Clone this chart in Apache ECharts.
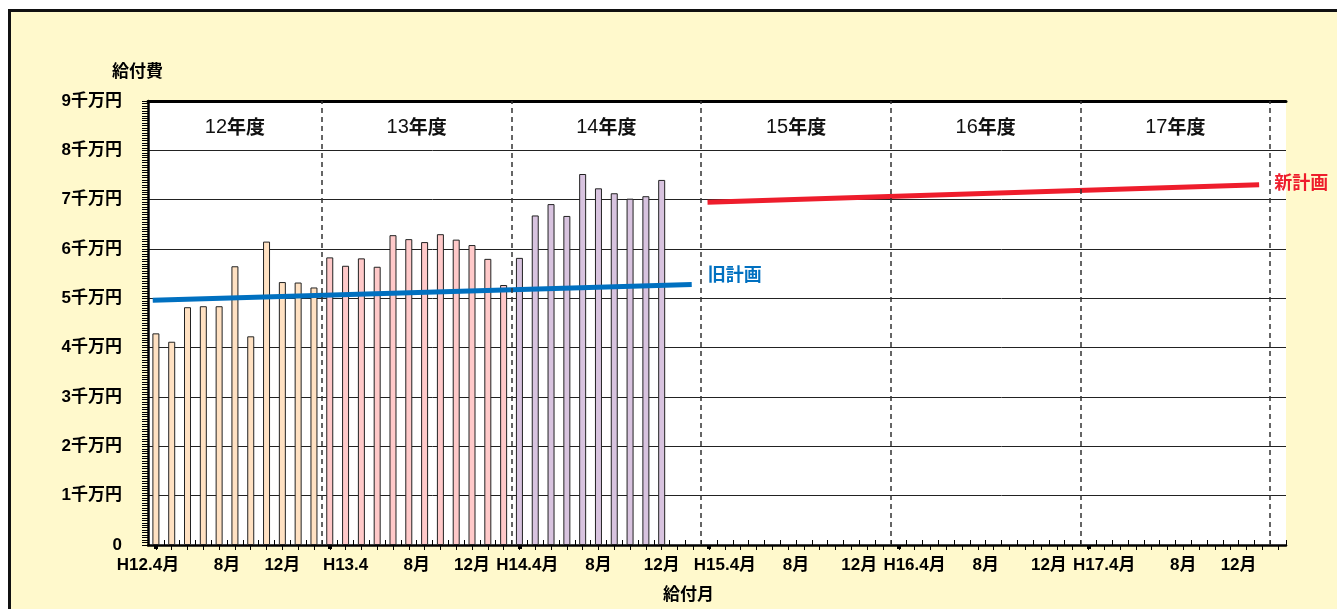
<!DOCTYPE html>
<html>
<head>
<meta charset="utf-8">
<script src="https://cdn.jsdelivr.net/npm/echarts@6/dist/echarts.min.js"></script>
<style>
  html, body { margin: 0; padding: 0; width: 1337px; height: 609px; overflow: hidden; background: #fff; }
  #frame { position: absolute; left: 8px; top: 9px; width: 1400px; height: 700px; border: 3px solid #111; background: #FFF9CC; box-sizing: border-box; }
  #chart { position: absolute; left: 0; top: 0; width: 1337px; height: 609px; }
</style>
</head>
<body>
<div id="frame"></div>
<div id="chart"></div>
<script>
// Months are counted from H12.4 (= 0); one unit per month.
const fy12Start = 1;
const fy12Values = [4.29, 4.12, 4.82, 4.84, 4.84, 5.65, 4.23, 6.15, 5.33, 5.32, 5.22];
const fy13Start = 12;
const fy13Values = [5.83, 5.66, 5.81, 5.64, 6.28, 6.20, 6.14, 6.30, 6.19, 6.08, 5.80, 5.27];
const fy14Start = 24;
const fy14Values = [5.82, 6.68, 6.91, 6.67, 7.52, 7.23, 7.13, 7.02, 7.07, 7.40];

// Planned monthly benefit lines (start / end month and value)
const oldPlanMonths = [0.8, 34.9];
const oldPlanValues = [4.96, 5.28];
const newPlanMonths = [35.9, 70.8];
const newPlanValues = [6.95, 7.30];

// Fiscal years and their boundaries (in months)
const fiscalYears = ['12', '13', '14', '15', '16', '17'];
const fiscalBounds = [0.5, 11.5, 23.5, 35.5, 47.5, 59.5, 71.5];

// Month tick labels on the x axis
const xLabelMonths = [0.5, 5.5, 9, 13, 17.5, 21, 24.5, 29, 33, 37, 41.5, 45.5, 49, 53.5, 57.5, 61, 66, 69.5];
const xLabelTexts = ['H12.4月', '8月', '12月', 'H13.4', '8月', '12月', 'H14.4月', '8月', '12月',
                     'H15.4月', '8月', '12月', 'H16.4月', '8月', '12月', 'H17.4月', '8月', '12月'];
const yearStartMonths = [1, 12, 24, 36, 48, 60];

const barColors = ['#FFE1C2', '#FFC9C9', '#D8C3DF'];
const FONT = '"Liberation Sans", "Noto Sans CJK JP", sans-serif';
const CJK = '"Noto Sans CJK JP", sans-serif';

function barItems(start, values, color) {
  return values.map((v, i) => ({ value: [start + i, v], itemStyle: { color: color } }));
}
const barData = [].concat(
  barItems(fy12Start, fy12Values, barColors[0]),
  barItems(fy13Start, fy13Values, barColors[1]),
  barItems(fy14Start, fy14Values, barColors[2])
);

const monthTicks = [];
for (let m = 1; m <= 72; m++) monthTicks.push(m);
const halfTicks = [];
for (let m = 0.5; m <= 72.5; m += 1) halfTicks.push(m);

const labelMap = {};
xLabelMonths.forEach((m, i) => { labelMap[m] = xLabelTexts[i]; });

const xMin = 0.5, xMax = 72.5;
const baseX = { type: 'value', min: xMin, max: xMax, splitLine: { show: false } };

const chart = echarts.init(document.getElementById('chart'), null, { renderer: 'canvas' });
chart.setOption({
  backgroundColor: 'transparent',
  animation: false,
  title: [
    { text: '給付費', left: 107, top: 57, textStyle: { fontFamily: CJK, fontSize: 17, fontWeight: 'bold', color: '#000' } },
    { text: '給付月', left: 658, top: 580, textStyle: { fontFamily: CJK, fontSize: 17, fontWeight: 'bold', color: '#000' } }
  ],
  grid: { left: 148, top: 101, width: 1138, height: 444, show: true, backgroundColor: '#fff', borderWidth: 0 },
  xAxis: [
    Object.assign({}, baseX, {
      position: 'bottom',
      axisLine: { show: true, lineStyle: { color: '#000', width: 2.5 } },
      axisTick: { show: true, inside: false, length: 5, customValues: monthTicks, lineStyle: { color: '#000', width: 1 } },
      axisLabel: {
        show: true, margin: 12, customValues: xLabelMonths,
        formatter: v => labelMap[v] || '',
        fontFamily: FONT, fontSize: 17, fontWeight: 'bold', color: '#000'
      }
    }),
    Object.assign({}, baseX, {
      position: 'bottom',
      axisLine: { show: false },
      axisTick: { show: true, inside: true, length: 5, customValues: halfTicks, lineStyle: { color: '#000', width: 1 } },
      axisLabel: { show: false }
    }),
    Object.assign({}, baseX, {
      position: 'bottom',
      axisLine: { show: false },
      axisTick: { show: true, inside: false, length: 4, customValues: yearStartMonths, lineStyle: { color: '#000', width: 4 } },
      axisLabel: { show: false }
    }),
    Object.assign({}, baseX, {
      position: 'top',
      axisLine: { show: true, lineStyle: { color: '#000', width: 3 } },
      axisTick: { show: false },
      axisLabel: { show: false }
    })
  ],
  yAxis: {
    type: 'value', min: 0, max: 9, interval: 1,
    axisLine: { show: true, lineStyle: { color: '#000', width: 2.5 } },
    axisTick: { show: true, length: 6, lineStyle: { color: '#000' } },
    minorTick: { show: true, splitNumber: 20, length: 6, lineStyle: { color: '#000', width: 1 } },
    splitLine: { show: true, lineStyle: { color: '#222', width: 1 } },
    axisLabel: {
      margin: 26, fontFamily: FONT, fontSize: 17, fontWeight: 'bold', color: '#000',
      formatter: v => (v === 0 ? '0' : v + '千万円')
    }
  },
  series: [
    {
      type: 'bar', xAxisIndex: 0, data: barData, barWidth: 7,
      itemStyle: { borderColor: '#222', borderWidth: 1 },
      markLine: {
        silent: true, symbol: 'none', label: { show: false },
        lineStyle: { color: '#333', width: 1.5, type: [5, 4] },
        data: fiscalBounds.slice(1).map(b => ({ xAxis: b }))
      },
      markArea: {
        silent: true,
        itemStyle: { color: 'rgba(0,0,0,0)' },
        label: {
          show: true, position: 'insideTop', distance: 16,
          formatter: p => '{n|' + p.name + '}{k|年度}',
          rich: {
            n: { fontFamily: FONT, fontSize: 20, color: '#111' },
            k: { fontFamily: CJK, fontSize: 19, fontWeight: 'bold', color: '#111' }
          }
        },
        data: fiscalYears.map((y, i) => [{ name: y, xAxis: fiscalBounds[i] }, { xAxis: fiscalBounds[i + 1] }])
      }
    },
    {
      type: 'line', xAxisIndex: 0, symbol: 'none',
      data: oldPlanMonths.map((m, i) => [m, oldPlanValues[i]]),
      lineStyle: { color: '#0070C0', width: 5, cap: 'butt' },
      endLabel: {
        show: true, formatter: '旧計画', distance: 16, offset: [0, -10],
        fontFamily: CJK, fontSize: 18, fontWeight: 'bold', color: '#0070C0'
      }
    },
    {
      type: 'line', xAxisIndex: 0, symbol: 'none',
      data: newPlanMonths.map((m, i) => [m, newPlanValues[i]]),
      lineStyle: { color: '#EE1D2C', width: 5, cap: 'butt' },
      endLabel: {
        show: true, formatter: '新計画', distance: 15, offset: [0, -3],
        fontFamily: CJK, fontSize: 18, fontWeight: 'bold', color: '#EE1D2C'
      }
    }
  ]
});
</script>
</body>
</html>
